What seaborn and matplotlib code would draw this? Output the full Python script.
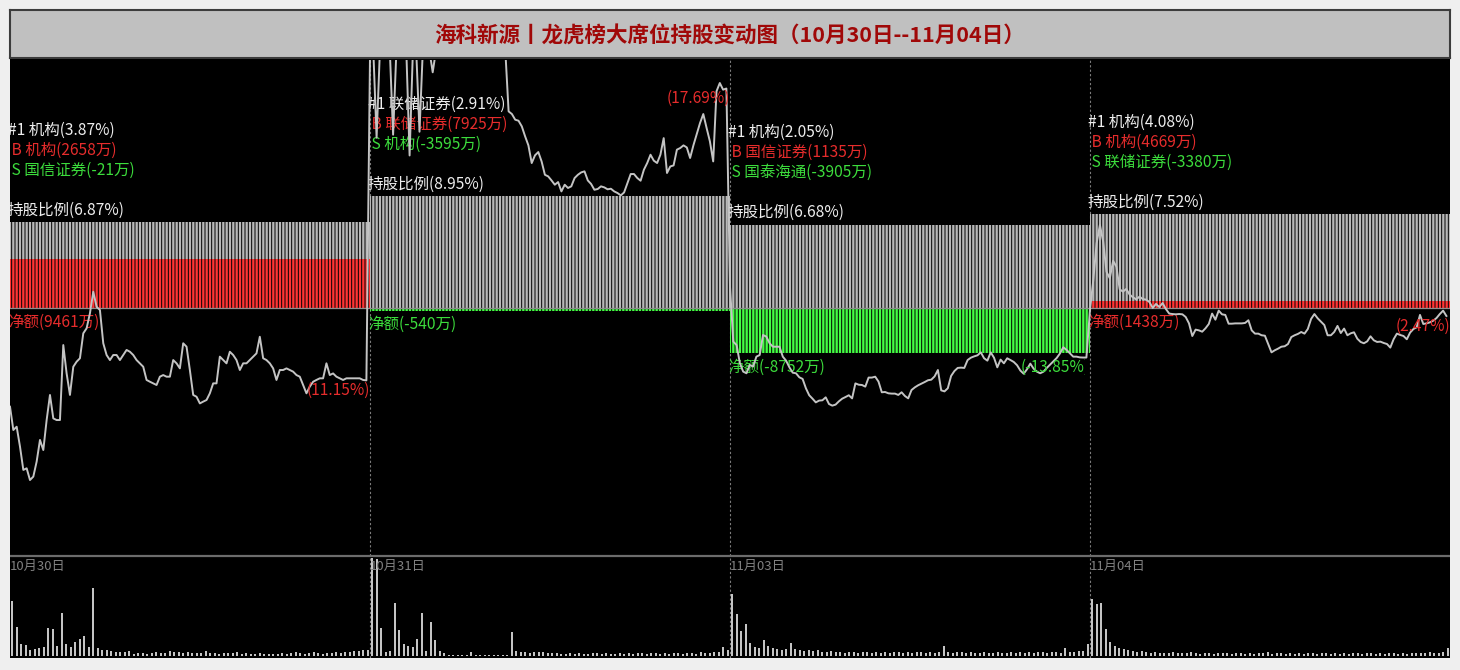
import matplotlib
matplotlib.use("Agg")
import matplotlib.pyplot as plt
from matplotlib.patches import Rectangle
import numpy as np
import pandas as pd
import seaborn as sns

plt.rcParams["font.family"] = ["Noto Sans CJK SC", "DejaVu Sans"]
plt.rcParams["hatch.linewidth"] = 0.7
plt.rcParams["axes.unicode_minus"] = False

title = "海科新源丨龙虎榜大席位持股变动图（10月30日--11月04日）"
days = ["10月30日", "10月31日", "11月03日", "11月04日"]
hold_pct = [6.87, 8.95, 6.68, 7.52]          # 持股比例
net_wan = [9461, -540, -8752, 1438]          # 净额(万)
day_chg = [11.15, 17.69, -13.85, 2.47]       # 当日涨跌幅
top_seat = ["机构(3.87%)", "联储证券(2.91%)", "机构(2.05%)", "机构(4.08%)"]
top_buy = ["机构(2658万)", "联储证券(7925万)", "国信证券(1135万)", "机构(4669万)"]
top_sell = ["国信证券(-21万)", "机构(-3595万)", "国泰海通(-3905万)", "联储证券(-3380万)"]

# 分时走势: 相对10月29日收盘价的累计涨幅(%)
price_d1 = [9.38, 7.81, 8.03, 6.69, 5.12, 5.23, 4.44, 4.67, 5.68, 7.14,
            6.46, 8.48, 10.17, 8.59, 8.48, 8.48, 13.53, 11.62, 10.17, 12.07,
            12.41, 12.64, 14.32, 14.66, 15.67, 17.12, 16.11, 15.89, 13.65, 12.86,
            12.52, 12.86, 12.86, 12.52, 12.86, 13.20, 13.08, 12.86, 12.52, 12.30,
            12.07, 11.18, 11.06, 10.95, 10.84, 11.40, 11.51, 11.40, 11.40, 12.52,
            12.30, 11.96, 13.65, 13.42, 11.85, 10.17, 10.05, 9.60, 9.72, 9.83,
            10.28, 10.95, 10.95, 12.75, 12.52, 12.30, 13.08, 12.86, 12.52, 11.85,
            12.30, 12.30, 12.52, 12.75, 12.97, 14.09, 12.64, 12.52, 12.30, 11.96,
            11.18, 11.85, 11.85, 11.96, 11.85, 11.74, 11.51, 11.40, 10.84, 10.28,
            10.73, 11.06, 11.18, 11.29, 11.29, 12.30, 11.51, 11.62, 11.40, 11.29,
            11.18, 11.29, 11.29, 11.29, 11.29, 11.29, 11.18, 11.15]
price_d2 = [33.00, 33.38, 27.50, 33.38, 33.38, 33.38, 33.38, 27.70, 33.38, 33.38,
            33.38, 33.38, 26.30, 33.38, 33.38, 27.90, 33.38, 33.38, 33.38, 31.90,
            33.38, 33.38, 33.38, 33.38, 33.38, 33.38, 33.38, 33.38, 33.38, 33.38,
            33.38, 33.38, 33.38, 33.38, 33.38, 33.38, 33.38, 33.38, 33.38, 33.38,
            33.38, 33.38,
            29.27, 29.09, 28.71, 28.64, 28.26, 27.59, 26.98, 25.79, 26.31, 26.53,
            25.90, 25.00, 24.89, 24.62, 24.33, 24.51, 23.88, 24.33, 24.11, 24.22,
            24.78, 25.00, 25.16, 25.23, 24.62, 24.38, 23.99, 24.04, 24.22, 24.15,
            24.02, 24.06, 23.88, 23.77, 23.61, 23.81, 24.44, 25.05, 25.05, 24.78,
            24.60, 25.34, 25.79, 26.35, 25.95, 25.79, 26.35, 27.47, 25.12, 25.56,
            25.63, 26.69, 26.80, 26.98, 26.84, 26.13, 26.98, 27.74, 28.48, 29.09,
            28.15, 27.25, 25.90, 30.62, 31.18, 30.73, 30.81]
price_d3 = [17.46, 13.76, 13.53, 12.30, 11.74, 11.63, 12.19, 12.08, 12.75, 12.86,
            14.21, 14.10, 13.65, 13.42, 13.42, 13.42, 12.75, 12.48, 12.03, 11.67,
            11.63, 11.36, 11.25, 10.62, 10.15, 9.92, 9.67, 9.79, 9.81, 10.01,
            9.56, 9.45, 9.52, 9.74, 9.92, 10.03, 10.15, 9.94, 10.95, 10.86,
            10.84, 10.73, 11.34, 11.34, 11.40, 11.07, 10.35, 10.37, 10.28, 10.26,
            10.26, 10.17, 10.35, 10.10, 9.94, 10.50, 10.68, 10.82, 10.93, 11.04,
            11.16, 11.20, 11.42, 11.85, 10.48, 10.41, 10.62, 11.45, 11.78, 11.99,
            12.01, 11.99, 12.52, 12.68, 12.77, 12.84, 13.04, 12.64, 12.48, 13.04,
            12.68, 12.03, 12.55, 12.30, 12.64, 12.52, 12.39, 12.17, 11.81, 11.60,
            11.90, 12.28, 11.94, 11.74, 11.63, 11.74, 11.99, 12.21, 12.44, 12.66,
            12.97, 13.38, 13.20, 12.97, 12.75, 12.75, 12.70, 12.69, 12.69]
price_d4 = [15.89, 17.91, 20.38, 21.62, 20.49, 18.47, 18.03, 19.21, 18.81, 17.28,
            17.13, 17.31, 16.93, 16.75, 16.61, 16.79, 16.63, 16.59, 16.43, 16.03,
            16.30, 16.09, 16.36, 15.96, 15.65, 15.62, 15.60, 15.62, 15.60, 15.42,
            14.99, 14.14, 14.57, 14.52, 14.43, 14.66, 14.95, 15.65, 15.24, 15.85,
            15.60, 15.56, 14.97, 14.97, 14.99, 14.99, 14.99, 15.02, 15.20, 14.52,
            14.30, 14.30, 14.19, 14.16, 13.60, 13.04, 13.18, 13.29, 13.42, 13.45,
            13.60, 14.07, 14.19, 14.28, 14.41, 14.30, 14.61, 15.29, 15.62, 15.33,
            15.11, 14.88, 14.19, 14.19, 14.41, 14.82, 14.34, 14.64, 14.19, 14.32,
            14.39, 13.96, 13.74, 13.65, 13.78, 14.12, 13.85, 13.74, 13.76, 13.67,
            13.60, 13.36, 13.92, 14.30, 14.21, 14.14, 13.92, 14.37, 14.61, 14.73,
            15.56, 14.95, 14.99, 15.06, 15.17, 15.35, 15.62, 15.85, 15.49]

# 成交量(相对单位)
vol_d1 = [55, 29, 12, 11, 6, 7, 8, 9, 28, 27,
          10, 43, 12, 9, 14, 17, 20, 9, 68, 8,
          6, 6, 5, 4, 4, 4, 5, 2, 3, 3,
          2, 3, 4, 3, 3, 5, 4, 4, 3, 4,
          3, 3, 3, 5, 3, 3, 2, 3, 3, 3,
          4, 2, 3, 2, 2, 3, 2, 2, 2, 2,
          3, 2, 3, 4, 3, 2, 3, 4, 3, 2,
          3, 3, 4, 3, 4, 4, 5, 5, 6, 6]
vol_d2 = [98, 97, 28, 4, 5, 53, 26, 12, 10, 9,
          17, 43, 5, 34, 16, 5, 3, 1, 1, 1,
          1, 1, 4, 1, 1, 1, 1, 1, 1, 1,
          1, 24, 5, 4, 4, 3, 4, 4, 4, 3,
          3, 3, 2, 2, 3, 2, 3, 2, 2, 3,
          3, 2, 3, 2, 2, 3, 2, 3, 2, 3,
          3, 2, 3, 3, 2, 3, 2, 3, 3, 2,
          3, 3, 2, 4, 3, 3, 4, 4, 9, 6]
vol_d3 = [62, 42, 25, 32, 13, 9, 8, 16, 10, 8,
          7, 6, 7, 13, 7, 6, 5, 6, 5, 6,
          4, 4, 5, 4, 4, 3, 4, 4, 3, 4,
          4, 3, 4, 3, 4, 3, 4, 4, 3, 4,
          3, 4, 4, 3, 4, 3, 4, 10, 4, 3,
          4, 4, 3, 4, 3, 3, 4, 3, 3, 4,
          3, 3, 4, 3, 4, 3, 4, 3, 4, 4,
          3, 4, 4, 3, 8, 4, 4, 5, 5, 12]
vol_d4 = [57, 52, 53, 27, 14, 10, 8, 7, 6, 5,
          4, 5, 4, 3, 4, 3, 3, 3, 4, 3,
          3, 3, 4, 3, 2, 3, 3, 2, 3, 3,
          3, 2, 3, 3, 2, 3, 2, 3, 3, 4,
          2, 3, 3, 2, 3, 2, 3, 2, 3, 3,
          2, 3, 3, 2, 3, 2, 3, 2, 3, 3,
          2, 3, 3, 2, 3, 2, 3, 3, 2, 3,
          2, 3, 3, 3, 3, 4, 3, 3, 4, 8]

W, H = 1460, 670
PX = 0.72  # 1 px in points at dpi 100
RED_BAR, GREEN_BAR = "#ff3434", "#44ff44"
RED, GREEN, WHITE = "#e62c2c", "#3cdc3c", "#eeeeee"


def rect(x0, y0, x1, y1):
    return [x0 / W, 1 - y1 / H, (x1 - x0) / W, (y1 - y0) / H]


def overlay(r):
    ax = fig.add_axes(r)
    ax.set_facecolor("none")
    return ax


fig = plt.figure(figsize=(14.6, 6.7), dpi=100, facecolor="#efefef")

# title bar
ax_title = fig.add_axes(rect(10, 10, 1450, 58))
ax_title.set_facecolor("#c0c0c0")
ax_title.set_xticks([])
ax_title.set_yticks([])
for s in ax_title.spines.values():
    s.set_color("#3c3c3c")
    s.set_linewidth(1.5)
ax_title.text(0.5, 0.45, title, ha="center", va="center", color="#a00808",
              fontsize=15.5, fontweight="bold")

# black panel with day separators
ax_bg = fig.add_axes(rect(10, 59, 1450, 658))
ax_bg.set_facecolor("black")
ax_bg.set_xlim(-0.5, 3.5)
ax_bg.set_ylim(0, 1)
ax_bg.set_xticks([])
ax_bg.set_yticks([])
for s in ax_bg.spines.values():
    s.set_visible(False)
for b in [0.5, 1.5, 2.5]:
    ax_bg.axvline(b, color="#7c7c7c", lw=0.8, ls=(0, (2, 2)))
ax_bg.axhline((658 - 555.5) / 599, color="#6c6c6c", lw=1.6)

main_rect = rect(10, 60, 1450, 555)

# holding ratio bars
bar_df = pd.DataFrame({"day": days, "hold": hold_pct, "net": net_wan})
ax_hold = overlay(main_rect)
sns.barplot(data=bar_df, x="day", y="hold", ax=ax_hold, color="#b8b8b8",
            saturation=1, width=1, errorbar=None)
ax_hold.set_xlim(-0.5, 3.5)
ax_hold.set_ylim(-19.81, 19.89)

# net amount bars
ax_net = overlay(main_rect)
sns.barplot(data=bar_df, x="day", y="net", hue="day", legend=False, ax=ax_net,
            palette=[RED_BAR if v > 0 else GREEN_BAR for v in net_wan],
            saturation=1, width=1, errorbar=None)
ax_net.set_xlim(-0.5, 3.5)
ax_net.set_ylim(-48165, 48360)
ax_net.axhline(0, color="#8c8c8c", lw=0.9)

for ax in (ax_hold, ax_net):
    for p in ax.patches:
        p.set_hatch("|||||")
        p.set_edgecolor("black")
        p.set_linewidth(0)

# intraday price line
prices = [price_d1, price_d2, price_d3, price_d4]
price_df = pd.concat(
    [pd.DataFrame({"x": np.linspace(d - 0.5, d + 0.49, len(s)), "pct": s})
     for d, s in enumerate(prices)], ignore_index=True)
ax_price = overlay(main_rect)
sns.lineplot(data=price_df, x="x", y="pct", ax=ax_price, sort=False,
             estimator=None, color="#c4c4c4", linewidth=1.4)
ax_price.set_xlim(-0.5, 3.5)
ax_price.set_ylim(-0.61, 32.73)

# volume
vols = [vol_d1, vol_d2, vol_d3, vol_d4]
vol_df = pd.concat(
    [pd.DataFrame({"x": d - 0.5 + (np.arange(len(v)) + 0.5) / len(v), "vol": v})
     for d, v in enumerate(vols)], ignore_index=True)
ax_vol = overlay(rect(10, 556, 1450, 656))
sns.barplot(data=vol_df, x="x", y="vol", ax=ax_vol, native_scale=True, orient="x",
            color="#c4c4c4", saturation=1, width=0.55, errorbar=None, linewidth=0)
ax_vol.set_xlim(-0.5, 3.5)
ax_vol.set_ylim(0, 100)
for d, lab in enumerate(days):
    ax_vol.text(d - 0.5, 0.9, lab, transform=ax_vol.get_xaxis_transform(),
                color="#808080", fontsize=9.5, va="center", ha="left")

# annotations
fs = 11.2
for d in range(4):
    x0 = d - 0.5
    for txt, dy, col in [("#1 " + top_seat[d], 92, WHITE),
                         (" B " + top_buy[d], 72, RED),
                         (" S " + top_sell[d], 52, GREEN),
                         (f"持股比例({hold_pct[d]:.2f}%)", 12, WHITE)]:
        ax_hold.annotate(txt, xy=(x0, hold_pct[d]), xytext=(-2 * PX, dy * PX),
                         textcoords="offset points", color=col, fontsize=fs,
                         ha="left", va="center", clip_on=True)
    net = net_wan[d]
    ax_net.annotate(f"净额({net}万)", xy=(x0, min(net, 0)), xytext=(-2 * PX, -14 * PX),
                    textcoords="offset points", color=RED if net > 0 else GREEN,
                    fontsize=fs, ha="left", va="center", clip_on=True)
    chg = day_chg[d]
    t = ax_price.annotate(f"({chg:.2f}%)", xy=(d + 0.5, prices[d][-1]),
                          xytext=(0, -10 * PX), textcoords="offset points",
                          color=RED if chg > 0 else GREEN, fontsize=fs,
                          ha="right", va="center", clip_on=True)
    if d == 2:
        t.set_clip_path(Rectangle((-0.5, -10), 2.985, 60, transform=ax_price.transData))

for ax in (ax_hold, ax_net, ax_price, ax_vol):
    ax.axis("off")

fig.savefig("out.png", dpi=100, facecolor=fig.get_facecolor())
